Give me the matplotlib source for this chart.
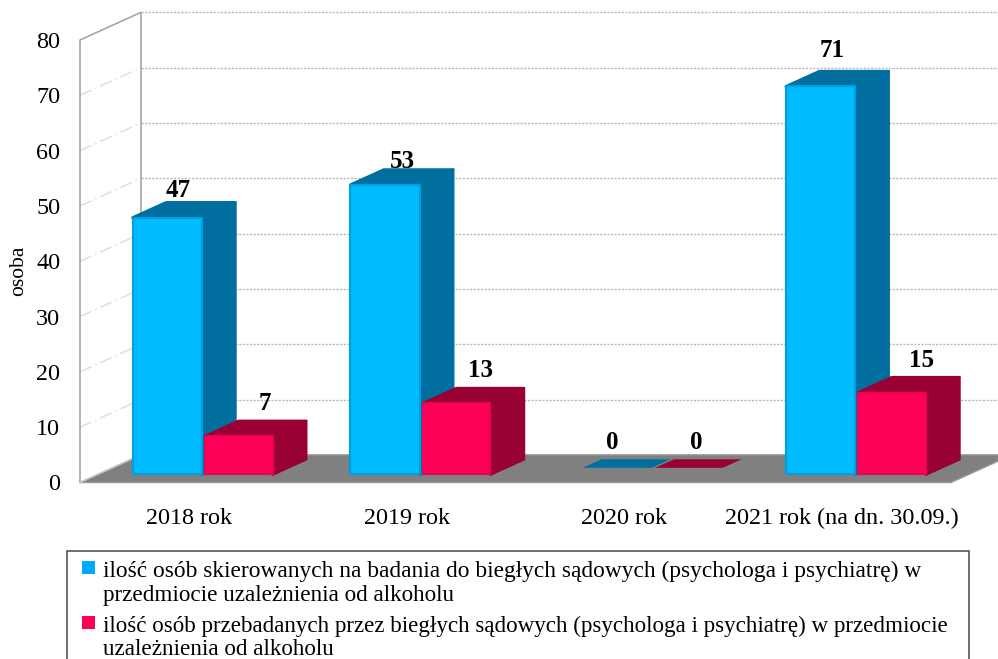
# -*- coding: utf-8 -*-

import matplotlib
matplotlib.use('Agg')
import matplotlib.pyplot as plt
from matplotlib.patches import Polygon, Rectangle

plt.rcParams['font.family'] = ['Liberation Serif', 'DejaVu Serif']

# dane
categories = ['2018 rok', '2019 rok', '2020 rok', '2021 rok (na dn. 30.09.)']
skierowani = [47, 53, 0, 71]
przebadani = [7, 13, 0, 15]
y_ticks = [0, 10, 20, 30, 40, 50, 60, 70, 80]
legend_labels = [
    'ilość osób skierowanych na badania do biegłych sądowych (psychologa i psychiatrę) w\n'
    'przedmiocie uzależnienia od alkoholu',
    'ilość osób przebadanych przez biegłych sądowych (psychologa i psychiatrę) w przedmiocie\n'
    'uzależnienia od alkoholu',
]

W, H = 998, 659
fig = plt.figure(figsize=(W / 100, H / 100), dpi=100)

# plaszczyzna przednia wykresu, w pikselach obrazka
left, right, top, bottom = 80, 951, 40, 482.5
ax = fig.add_axes([left / W, 1 - bottom / H, (right - left) / W, (bottom - top) / H])
ax.set_xlim(-0.5, 3.5)
ax.set_ylim(0, 80)
ax.patch.set_visible(False)
for s in ax.spines.values():
    s.set_visible(False)

# glebokosc 3D w jednostkach danych
depth_x = 61 / 217.75
depth_y = 5.0


def pr(x, v, z):
    return (x + z * depth_x, v + z * depth_y)


wall = '#a6a6a6'
# podloga
ax.add_patch(Polygon([pr(-0.5, 0, 0), pr(3.5, 0, 0), pr(3.5, 0, 1), pr(-0.5, 0, 1)],
                     closed=True, fc='#808080', ec='#999999', lw=1, clip_on=False, zorder=1))

# siatka na tylnej scianie i na scianie bocznej
for v in y_ticks[1:]:
    x0, y0 = pr(-0.5, v, 1)
    ax.plot([x0, 3.8], [y0, y0], color='#b8b8b8', lw=1, ls=(0, (1.6, 1.0)), clip_on=False, zorder=1)
    if v < 80:
        x1, y1 = pr(-0.5, v, 0)
        ax.plot([x1, x0], [y1, y0], color='#dcdcdc', lw=1, ls=(0, (9, 3, 1, 3)), clip_on=False, zorder=1)

# krawedzie sciany bocznej
ax.plot(*zip(pr(-0.5, 0, 0), pr(-0.5, 80, 0), pr(-0.5, 80, 1), pr(-0.5, 0, 1)),
        color=wall, lw=1.2, clip_on=False, zorder=1.5)
ax.plot(*zip(pr(-0.5, 0, 0), pr(-0.5, 0, 1)), color='#c8c8c8', lw=1, clip_on=False, zorder=1.5)

blue_w = 0.318
red_w = 0.31
bar_gap = 0.333
bar_scale = 0.988
z_front, z_back = 0.29, 0.84
z_flat = 0.53


def draw_bar(x, value, bar_w, front, edge, dark, order):
    v = value * bar_scale
    if v == 0:
        # slupek zerowy to plaski rownoleglobok
        ax.add_patch(Polygon([pr(x, 0, z_flat), pr(x + bar_w, 0, z_flat),
                              pr(x + bar_w, 0, z_back), pr(x, 0, z_back)],
                             closed=True, fc=dark, ec='none', clip_on=False, zorder=order))
        return
    kw = dict(closed=True, fc=dark, ec=dark, lw=2, joinstyle='round', clip_on=False, zorder=order)
    ax.add_patch(Polygon([pr(x + bar_w, 0, z_front), pr(x + bar_w, 0, z_back),
                          pr(x + bar_w, v, z_back), pr(x + bar_w, v, z_front)], **kw))
    ax.add_patch(Polygon([pr(x, v, z_front), pr(x + bar_w, v, z_front),
                          pr(x + bar_w, v, z_back), pr(x, v, z_back)], **kw))
    ax.add_patch(Polygon([pr(x, 0, z_front), pr(x + bar_w, 0, z_front),
                          pr(x + bar_w, v, z_front), pr(x, v, z_front)],
                         closed=True, fc=front, ec=edge, lw=1.5, joinstyle='round',
                         clip_on=False, zorder=order + 0.1))


blue, blue_edge, blue_dark = '#00BBFF', '#00A0E0', '#006FA0'
red, red_edge, red_dark = '#FF0059', '#EE0052', '#990033'

# przesuniecia etykiet danych w pikselach
blue_dx = [11, 17.5, -5, 11.5]
blue_dy = [21, 17, 19, 29]
red_dx = [26, 24, 7, 29]
red_dy = [26, 26, 19, 26]

for i in range(len(categories)):
    x_b = i - 0.34
    x_r = x_b + bar_gap
    draw_bar(x_b, skierowani[i], blue_w, blue, blue_edge, blue_dark, 3 + i * 2)
    draw_bar(x_r, przebadani[i], red_w, red, red_edge, red_dark, 3.5 + i * 2)
    for x, w, value, dx, dy in [(x_b, blue_w, skierowani[i], blue_dx[i], blue_dy[i]),
                                (x_r, red_w, przebadani[i], red_dx[i], red_dy[i])]:
        z = z_flat if value == 0 else z_front
        ax.annotate(str(value), xy=pr(x + w / 2, value * bar_scale, z),
                    xytext=(dx * 0.72, dy * 0.72),
                    textcoords='offset points', ha='center', va='baseline',
                    fontsize=18, fontweight='bold', color='black', zorder=20,
                    annotation_clip=False)

ax.set_yticks(y_ticks)
ax.set_xticks(range(len(categories)))
ax.set_xticklabels(categories)
ax.tick_params(axis='y', length=0, pad=14.2, labelsize=17.4)
ax.tick_params(axis='x', length=0, pad=18, labelsize=17.4)
ax.set_ylabel('osoba', fontsize=15.5, va='center')
ax.yaxis.set_label_coords((19 - left) / (right - left), (bottom - 271) / (bottom - top))


def fx(px):
    return px / W


def fy(py):
    return 1 - py / H


# legenda, dol ramki wychodzi poza obrazek
fig.add_artist(Rectangle((fx(66.5), fy(680)), fx(969) - fx(66.5), fy(551) - fy(680),
                         transform=fig.transFigure, fc='white', ec='#555555', lw=1.2, zorder=5))
legend_colors = ['#00ABFF', '#FF0059']
legend_square_tops = [561, 616]
legend_baselines = [[577, 601], [632, 655]]
legend_sizes = [[16.85, 16.7], [16.6, 16.7]]
for label, col, sq, bases, sizes in zip(legend_labels, legend_colors, legend_square_tops,
                                        legend_baselines, legend_sizes):
    fig.add_artist(Rectangle((fx(82), fy(sq + 13)), 13 / W, 13 / H,
                             transform=fig.transFigure, fc=col, ec='none', zorder=6))
    for line, base, size in zip(label.split('\n'), bases, sizes):
        fig.text(fx(103), fy(base), line, fontsize=size, va='baseline', ha='left', zorder=6)

fig.savefig('out.png', dpi=100)
